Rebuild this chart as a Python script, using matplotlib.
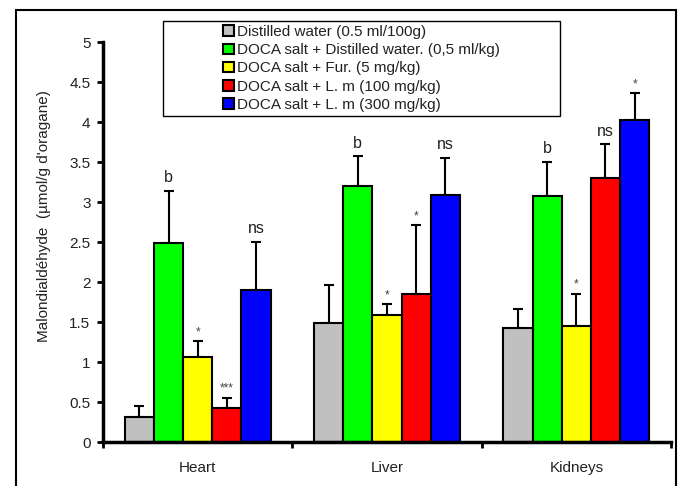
import matplotlib
matplotlib.use("Agg")
import matplotlib.pyplot as plt
from matplotlib.patches import Rectangle
import numpy as np

plt.rcParams['font.family'] = ['Liberation Sans', 'DejaVu Sans']

categories = ["Heart", "Liver", "Kidneys"]
series_names = [
    "Distilled water (0.5 ml/100g)",
    "DOCA salt + Distilled water. (0,5 ml/kg)",
    "DOCA salt + Fur. (5 mg/kg)",
    "DOCA salt + L. m (100 mg/kg)",
    "DOCA salt + L. m (300 mg/kg)",
]
colors = ["#C0C0C0", "#00FF00", "#FFFF00", "#FF0000", "#0000FF"]

# values per series, across categories (Heart, Liver, Kidneys)
water = [0.31, 1.49, 1.43]
doca = [2.49, 3.20, 3.07]
fur = [1.06, 1.59, 1.45]
lm100 = [0.42, 1.85, 3.30]
lm300 = [1.90, 3.09, 4.02]

# upper error (SEM) per series
water_err = [0.14, 0.47, 0.23]
doca_err = [0.65, 0.37, 0.43]
fur_err = [0.20, 0.13, 0.40]
lm100_err = [0.13, 0.86, 0.42]
lm300_err = [0.60, 0.46, 0.34]

# significance labels
water_sig = ["", "", ""]
doca_sig = ["b", "b", "b"]
fur_sig = ["*", "*", "*"]
lm100_sig = ["***", "*", "ns"]
lm300_sig = ["ns", "ns", "*"]

values = [water, doca, fur, lm100, lm300]
errors = [water_err, doca_err, fur_err, lm100_err, lm300_err]
sigs = [water_sig, doca_sig, fur_sig, lm100_sig, lm300_sig]

fig = plt.figure(figsize=(6.83, 4.86), dpi=100)
ax = fig.add_axes([103/683, 1-442/486, (671-103)/683, (442-42)/486])

n = len(values)
bw = 0.154
x = np.arange(len(categories))
handles = []
for i, (v, e, s) in enumerate(zip(values, errors, sigs)):
    pos = x + (i - (n-1)/2) * bw
    b = ax.bar(pos, v, width=bw, color=colors[i], edgecolor='black', linewidth=1.5,
               label=series_names[i], zorder=2)
    handles.append(b)
    ax.errorbar(pos, v, yerr=[np.zeros(len(v)), e], fmt='none', ecolor='black',
                elinewidth=1.5, capsize=3.6, capthick=1.5, zorder=1)
    for px, vv, ee, lab in zip(pos, v, e, s):
        if not lab:
            continue
        if lab.startswith('*'):
            ax.text(px, vv+ee+0.04, lab, ha='center', va='bottom', fontsize=8.5, color='#404040')
        else:
            ax.text(px, vv+ee+0.07, lab, ha='center', va='bottom', fontsize=11.5, color='#202020')

ax.set_xlim(-0.5, 2.5)
ax.set_ylim(0, 5)
ax.set_yticks(np.arange(0, 5.01, 0.5))
ax.set_yticklabels(["0", "0.5", "1", "1.5", "2", "2.5", "3", "3.5", "4", "4.5", "5"])
ax.set_xticks(x)
ax.set_xticklabels(categories)
ax.set_xticks([-0.5, 0.5, 1.5, 2.5], minor=True)
ax.tick_params(axis='x', which='major', length=0, labelsize=11, pad=14)
ax.tick_params(axis='x', which='minor', length=4, width=2, direction='out')
ax.tick_params(axis='y', length=4, width=2, direction='out', labelsize=11, pad=5, colors='black')
for lab in ax.get_yticklabels() + ax.get_xticklabels():
    lab.set_color('#222222')
for sp in ['top', 'right']:
    ax.spines[sp].set_visible(False)
for sp in ['left', 'bottom']:
    ax.spines[sp].set_linewidth(2.5)

fig.text(44/683, 1-216/486, "Malondialdéhyde  (µmol/g d'oragane)", rotation=90,
         ha='center', va='center', fontsize=11, color='#222222')

# legend box
lx0, ly0, lx1, ly1 = 163, 21, 560, 116
fig.patches.append(Rectangle((lx0/683, 1-ly1/486), (lx1-lx0)/683, (ly1-ly0)/486,
                             transform=fig.transFigure, fill=True, facecolor='white',
                             edgecolor='black', linewidth=1.0, zorder=5))
leg = fig.legend(handles=handles, loc='center',
                 bbox_to_anchor=((lx0+lx1)/2/683, 1-(ly0+ly1)/2/486),
                 frameon=False, fontsize=11, handlelength=0.7, handleheight=0.7,
                 handletextpad=0.2, labelspacing=0.28, borderpad=0.1)
for t in leg.get_texts():
    t.set_color('#222222')
leg.set_zorder(6)

# outer border
fig.patches.append(Rectangle((16/683, -0.05), (676-16)/683, 1.05-10/486,
                             transform=fig.transFigure, fill=False, edgecolor='black',
                             linewidth=1.5))

fig.savefig("out.png", dpi=100)
